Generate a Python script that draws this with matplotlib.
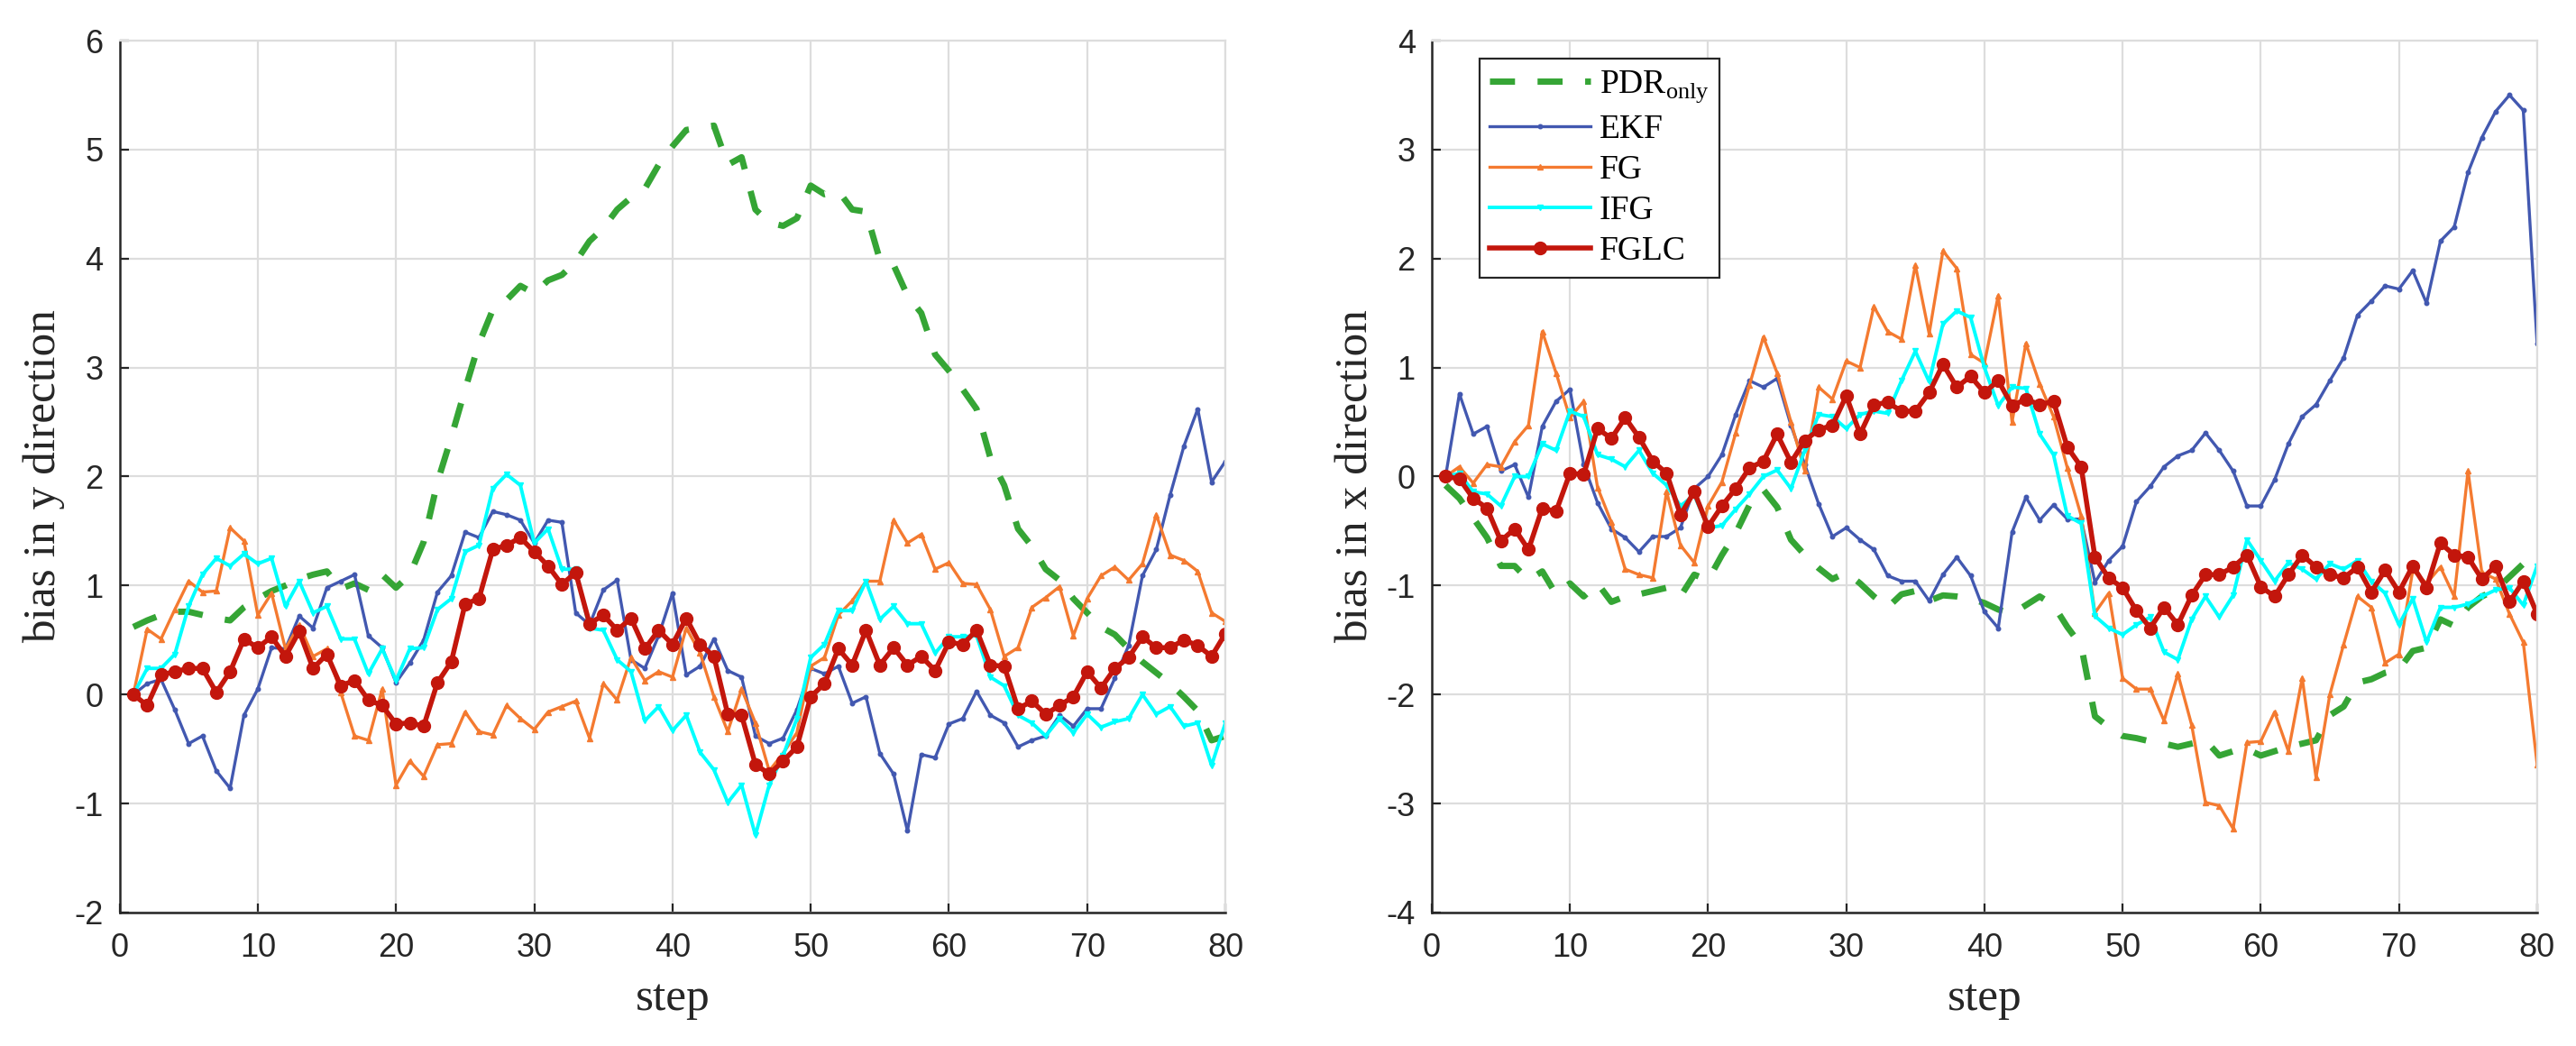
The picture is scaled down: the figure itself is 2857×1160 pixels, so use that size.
import numpy as np
import matplotlib
matplotlib.use("Agg")
import matplotlib.pyplot as plt

plt.rcParams["font.family"] = ["Liberation Sans", "DejaVu Sans"]
plt.rcParams["mathtext.fontset"] = "custom"
plt.rcParams["mathtext.rm"] = "Liberation Serif"
plt.rcParams["axes.unicode_minus"] = False

###################
#   Chart data    #
###################
steps = np.arange(1, 81)

# bias in y direction (left panel)
y_pdr = [0.62, 0.68, 0.73, 0.76, 0.76, 0.73, 0.70, 0.68, 0.80, 0.88,
         0.95, 1.00, 1.06, 1.10, 1.13, 0.97, 1.02, 0.96, 1.10, 0.98,
         1.10, 1.40, 1.95, 2.36, 2.80, 3.22, 3.53, 3.62, 3.75, 3.68,
         3.80, 3.85, 3.97, 4.16, 4.28, 4.45, 4.56, 4.64, 4.86, 5.03,
         5.18, 5.20, 5.22, 4.86, 4.93, 4.45, 4.33, 4.30, 4.37, 4.67,
         4.59, 4.62, 4.45, 4.43, 3.99, 3.94, 3.66, 3.50, 3.12, 2.97,
         2.80, 2.62, 2.17, 1.92, 1.52, 1.36, 1.15, 1.05, 0.88, 0.75,
         0.62, 0.55, 0.42, 0.30, 0.20, 0.10, -0.02, -0.15, -0.42, -0.38]
y_ekf = [0, 0.10, 0.14, -0.14, -0.45, -0.38, -0.70, -0.86, -0.19, 0.05,
         0.43, 0.42, 0.72, 0.61, 0.98, 1.04, 1.10, 0.54, 0.43, 0.11,
         0.29, 0.50, 0.94, 1.09, 1.49, 1.44, 1.68, 1.65, 1.60, 1.39,
         1.60, 1.58, 0.75, 0.64, 0.96, 1.05, 0.32, 0.24, 0.54, 0.93,
         0.18, 0.26, 0.51, 0.22, 0.16, -0.38, -0.45, -0.40, -0.14, 0.24,
         0.19, 0.26, -0.08, -0.02, -0.54, -0.73, -1.25, -0.55, -0.58, -0.27,
         -0.22, 0.03, -0.19, -0.26, -0.48, -0.42, -0.38, -0.19, -0.29, -0.13,
         -0.13, 0.15, 0.45, 1.09, 1.33, 1.83, 2.28, 2.62, 1.95, 2.14]
y_fg = [0, 0.60, 0.51, 0.78, 1.04, 0.94, 0.95, 1.53, 1.41, 0.73,
        0.93, 0.42, 0.64, 0.35, 0.42, 0.02, -0.38, -0.42, 0.05, -0.83,
        -0.61, -0.75, -0.46, -0.45, -0.16, -0.34, -0.37, -0.10, -0.22, -0.32,
        -0.16, -0.11, -0.06, -0.40, 0.10, -0.05, 0.34, 0.13, 0.21, 0.16,
        0.61, 0.38, -0.02, -0.34, 0.05, -0.26, -0.70, -0.54, -0.35, 0.26,
        0.34, 0.73, 0.86, 1.04, 1.04, 1.60, 1.39, 1.47, 1.15, 1.21,
        1.02, 1.01, 0.78, 0.35, 0.43, 0.80, 0.89, 0.99, 0.54, 0.88,
        1.09, 1.17, 1.05, 1.20, 1.65, 1.28, 1.23, 1.13, 0.75, 0.67]
y_ifg = [0, 0.24, 0.24, 0.37, 0.81, 1.10, 1.25, 1.18, 1.29, 1.20,
         1.25, 0.81, 1.04, 0.75, 0.81, 0.51, 0.51, 0.19, 0.42, 0.13,
         0.42, 0.43, 0.78, 0.88, 1.31, 1.37, 1.89, 2.02, 1.92, 1.39,
         1.52, 1.15, 1.15, 0.61, 0.59, 0.32, 0.21, -0.24, -0.11, -0.33,
         -0.19, -0.53, -0.69, -0.99, -0.83, -1.29, -0.83, -0.56, -0.22, 0.34,
         0.46, 0.77, 0.77, 1.04, 0.69, 0.81, 0.65, 0.65, 0.38, 0.53,
         0.53, 0.54, 0.16, 0.08, -0.19, -0.26, -0.38, -0.22, -0.35, -0.18,
         -0.30, -0.25, -0.22, 0.00, -0.18, -0.11, -0.29, -0.26, -0.65, -0.26]
y_fglc = [0, -0.10, 0.18, 0.21, 0.24, 0.24, 0.02, 0.21, 0.51, 0.43,
          0.53, 0.35, 0.58, 0.24, 0.37, 0.08, 0.13, -0.05, -0.10, -0.27,
          -0.26, -0.29, 0.11, 0.30, 0.83, 0.88, 1.33, 1.37, 1.44, 1.31,
          1.18, 1.01, 1.12, 0.65, 0.73, 0.59, 0.70, 0.42, 0.59, 0.46,
          0.70, 0.46, 0.35, -0.18, -0.19, -0.64, -0.73, -0.61, -0.48, -0.02,
          0.10, 0.42, 0.27, 0.59, 0.27, 0.43, 0.27, 0.35, 0.22, 0.48,
          0.46, 0.59, 0.27, 0.26, -0.13, -0.06, -0.18, -0.10, -0.02, 0.21,
          0.06, 0.24, 0.34, 0.53, 0.43, 0.43, 0.50, 0.45, 0.35, 0.56]

# bias in x direction (right panel)
x_pdr = [-0.08, -0.20, -0.38, -0.56, -0.82, -0.82, -0.95, -0.87, -1.08, -0.98,
         -1.10, -0.98, -1.15, -1.10, -1.08, -1.05, -1.02, -1.10, -0.90, -0.95,
         -0.72, -0.52, -0.26, -0.12, -0.28, -0.58, -0.72, -0.84, -0.94, -0.88,
         -0.98, -1.10, -1.20, -1.08, -1.05, -1.14, -1.09, -1.10, -1.12, -1.16,
         -1.22, -1.26, -1.18, -1.10, -1.18, -1.38, -1.55, -2.20, -2.30, -2.38,
         -2.40, -2.43, -2.45, -2.48, -2.45, -2.42, -2.56, -2.52, -2.50, -2.56,
         -2.52, -2.48, -2.45, -2.42, -2.19, -2.11, -1.89, -1.86, -1.80, -1.77,
         -1.60, -1.57, -1.31, -1.37, -1.20, -1.10, -1.04, -0.92, -0.80, -0.82]
x_ekf = [0, 0.76, 0.39, 0.46, 0.05, 0.11, -0.19, 0.46, 0.69, 0.80,
         0.11, -0.24, -0.48, -0.56, -0.69, -0.55, -0.55, -0.47, -0.11, 0.00,
         0.20, 0.57, 0.88, 0.82, 0.90, 0.47, 0.11, -0.25, -0.55, -0.47,
         -0.58, -0.67, -0.91, -0.96, -0.96, -1.14, -0.90, -0.74, -0.91, -1.24,
         -1.39, -0.51, -0.19, -0.40, -0.26, -0.39, -0.39, -0.97, -0.77, -0.64,
         -0.23, -0.09, 0.09, 0.19, 0.24, 0.40, 0.24, 0.05, -0.27, -0.27,
         -0.03, 0.30, 0.55, 0.66, 0.88, 1.09, 1.48, 1.61, 1.75, 1.72,
         1.89, 1.59, 2.16, 2.29, 2.79, 3.11, 3.35, 3.50, 3.36, 1.22]
x_fg = [0, 0.09, -0.06, 0.11, 0.09, 0.32, 0.47, 1.33, 0.95, 0.54,
        0.69, -0.10, -0.42, -0.85, -0.90, -0.93, -0.14, -0.63, -0.79, -0.27,
        -0.05, 0.40, 0.84, 1.28, 0.95, 0.50, 0.05, 0.82, 0.71, 1.06,
        1.00, 1.56, 1.33, 1.26, 1.94, 1.31, 2.07, 1.91, 1.12, 1.04,
        1.66, 0.50, 1.22, 0.85, 0.55, 0.08, -0.36, -1.25, -1.07, -1.85,
        -1.95, -1.95, -2.24, -1.81, -2.28, -2.99, -3.02, -3.23, -2.44, -2.43,
        -2.16, -2.52, -1.85, -2.76, -2.00, -1.54, -1.10, -1.20, -1.71, -1.63,
        -0.86, -0.98, -0.83, -1.10, 0.05, -0.88, -0.94, -1.26, -1.52, -2.64]
x_ifg = [0, 0.03, -0.14, -0.16, -0.27, 0.00, 0.00, 0.30, 0.24, 0.60,
         0.55, 0.20, 0.16, 0.09, 0.24, 0.03, -0.08, -0.27, -0.17, -0.47,
         -0.45, -0.30, -0.16, 0.00, 0.06, -0.11, 0.24, 0.57, 0.55, 0.44,
         0.57, 0.60, 0.58, 0.88, 1.15, 0.87, 1.40, 1.52, 1.46, 1.00,
         0.65, 0.82, 0.81, 0.39, 0.20, -0.36, -0.43, -1.28, -1.39, -1.45,
         -1.36, -1.29, -1.61, -1.68, -1.31, -1.10, -1.29, -1.09, -0.58, -0.77,
         -0.96, -0.79, -0.85, -0.94, -0.80, -0.85, -0.77, -0.96, -1.07, -1.36,
         -1.12, -1.52, -1.20, -1.20, -1.17, -1.10, -1.04, -1.02, -1.18, -0.82]
x_fglc = [0, -0.02, -0.20, -0.29, -0.59, -0.48, -0.67, -0.29, -0.32, 0.03,
          0.02, 0.44, 0.35, 0.54, 0.36, 0.14, 0.03, -0.35, -0.14, -0.46,
          -0.27, -0.11, 0.08, 0.14, 0.39, 0.13, 0.33, 0.43, 0.47, 0.74,
          0.39, 0.66, 0.68, 0.60, 0.60, 0.77, 1.03, 0.82, 0.92, 0.77,
          0.88, 0.65, 0.71, 0.66, 0.69, 0.27, 0.09, -0.74, -0.93, -1.02,
          -1.23, -1.39, -1.20, -1.36, -1.09, -0.90, -0.90, -0.83, -0.72, -1.01,
          -1.10, -0.90, -0.72, -0.83, -0.90, -0.93, -0.83, -1.06, -0.86, -1.06,
          -0.82, -1.02, -0.61, -0.72, -0.74, -0.94, -0.82, -1.15, -0.96, -1.26]

labels = [r"PDR$_{\mathrm{only}}$", "EKF", "FG", "IFG", "FGLC"]
y_ticks = np.arange(-2, 7, 1)
x_ticks = np.arange(-4, 5, 1)
step_ticks = np.arange(0, 81, 10)

###################
#      Style      #
###################
c_pdr = "#35a535"
c_ekf = "#4258b0"
c_fg = "#f47a30"
c_ifg = "#00ffff"
c_fglc = "#c3160c"
dark = "#262626"
serif = ["Liberation Serif", "DejaVu Serif"]


def draw_panel(ax, pdr, ekf, fg, ifg, fglc, yticks, ylabel):
    ax.plot(steps, pdr, color=c_pdr, lw=5.0, ls=(0, (4, 3.6)), label=labels[0])
    ax.plot(steps, ekf, color=c_ekf, lw=2.4, marker=".", ms=6.5, label=labels[1])
    ax.plot(steps, fg, color=c_fg, lw=2.4, marker="^", ms=4.5, label=labels[2])
    ax.plot(steps, ifg, color=c_ifg, lw=2.8, marker="v", ms=5, label=labels[3])
    ax.plot(steps, fglc, color=c_fglc, lw=4.0, marker="o", ms=10, label=labels[4])

    ax.set_xlim(0, 80)
    ax.set_ylim(yticks[0], yticks[-1])
    ax.set_xticks(step_ticks)
    ax.set_yticks(yticks)
    ax.grid(True, color="#dddddd", lw=1.6)
    ax.set_axisbelow(True)

    # matlab-like box: dark left/bottom, light top/right
    for side in ["top", "right"]:
        ax.spines[side].set_color("#dddddd")
        ax.spines[side].set_linewidth(1.6)
    for side in ["left", "bottom"]:
        ax.spines[side].set_color(dark)
        ax.spines[side].set_linewidth(1.8)

    ax.tick_params(direction="in", length=7, width=1.6, colors=dark,
                   labelsize=26, top=False, right=False)
    ax.tick_params(axis="x", pad=16)
    ax.tick_params(axis="y", pad=13)

    ax.set_xlabel("step", fontsize=37, family=serif, color=dark)
    ax.set_ylabel(ylabel, fontsize=37, family=serif, color=dark)
    ax.xaxis.set_label_coords(0.5, -0.075)
    ax.yaxis.set_label_coords(-0.049, 0.5)


fig = plt.figure(figsize=(28.57, 11.6), dpi=100)
ax1 = fig.add_axes([0.0464, 0.1276, 0.4293, 0.8336])
ax2 = fig.add_axes([0.5558, 0.1276, 0.4291, 0.8336])

draw_panel(ax1, y_pdr, y_ekf, y_fg, y_ifg, y_fglc, y_ticks, "bias in y direction")
draw_panel(ax2, x_pdr, x_ekf, x_fg, x_ifg, x_fglc, x_ticks, "bias in x direction")

leg = ax2.legend(loc="upper left", bbox_to_anchor=(0.043, 0.979), borderaxespad=0,
                 prop={"family": serif, "size": 27}, numpoints=1,
                 handlelength=3.0, handletextpad=0.25, labelspacing=0.28,
                 borderpad=0.3, fancybox=False, framealpha=1)
leg.get_frame().set_edgecolor(dark)
leg.get_frame().set_linewidth(1.6)

fig.savefig("out.png", dpi=100)
